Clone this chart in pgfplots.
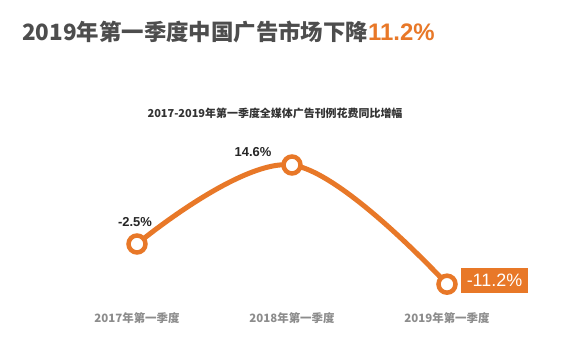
\documentclass[border=0pt]{standalone}
\usepackage{pgfplots}
\pgfplotsset{compat=1.18}
\usepackage{fontspec}
\setmainfont{Liberation Sans}
\newfontfamily\cjk{Noto Sans CJK SC}
\definecolor{orng}{RGB}{232,120,40}
\definecolor{ttl}{RGB}{77,77,77}
\definecolor{tick}{RGB}{140,140,140}
\begin{document}
\begin{tikzpicture}
\useasboundingbox (0,0) rectangle (565bp,361bp);
\fill[white] (0,0) rectangle (565bp,361bp);
\node[anchor=west, font=\cjk\bfseries\fontsize{22.5}{26}\selectfont, text=ttl, inner sep=0] at (22bp,329bp) {2019年第一季度中国广告市场下降\textcolor{orng}{\rmfamily\fontsize{24}{26}\selectfont 11.2\%}};
\node[font=\cjk\bfseries\fontsize{11}{13}\selectfont, text=black!80, inner sep=0] at (275bp,248bp) {2017-2019年第一季度全媒体广告刊例花费同比增幅};
\begin{axis}[at={(59.5bp,36.15bp)}, anchor=south west, scale only axis,
  width=465bp, height=184.8bp, xmin=-0.5, xmax=2.5, ymin=-20, ymax=20,
  axis line style={draw=none}, major tick length=0pt, ytick=\empty,
  xtick={0,1,2}, xticklabels={2017年第一季度,2018年第一季度,2019年第一季度},
  xticklabel style={font=\cjk\bfseries\fontsize{11.5}{13}\selectfont, text=tick, anchor=center, yshift=7bp},
  clip=false]
\addplot[orng, line width=5bp, smooth, tension=0.6, mark=*, mark size=8.5bp,
  mark options={fill=white, draw=orng, line width=4.5bp}] coordinates {(0,-2.5) (1,14.6) (2,-11.2)};
\addplot[draw=none, mark=none, point meta=explicit symbolic, nodes near coords,
  nodes near coords style={font=\bfseries\fontsize{13}{15}\selectfont, text=black!85, anchor=center, xshift=-2bp, yshift=22bp}]
  coordinates {(0,-2.5) [-2.5\%]};
\addplot[draw=none, mark=none, point meta=explicit symbolic, nodes near coords,
  nodes near coords style={font=\bfseries\fontsize{13}{15}\selectfont, text=black!85, anchor=center, xshift=-39bp, yshift=13bp}]
  coordinates {(1,14.6) [14.6\%]};
\addplot[draw=none, mark=none, point meta=explicit symbolic, nodes near coords,
  nodes near coords style={font=\fontsize{18}{20}\selectfont, text=white, fill=orng, inner sep=0pt, minimum width=67bp, minimum height=25bp, anchor=center, xshift=47.5bp, yshift=4bp}]
  coordinates {(2,-11.2) [-11.2\%]};
\end{axis}
\end{tikzpicture}
\end{document}
